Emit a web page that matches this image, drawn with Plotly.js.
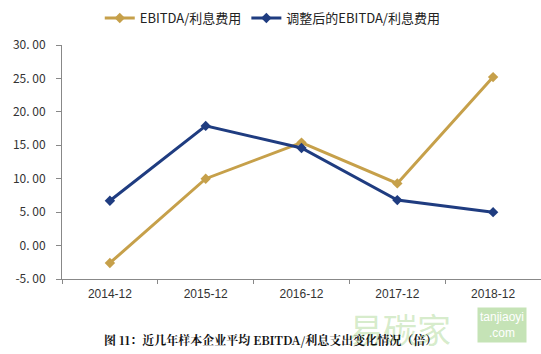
<!DOCTYPE html>
<html><head><meta charset="utf-8">
<script src="https://cdn.plot.ly/plotly-3.0.1.min.js"></script>
<style>html,body{margin:0;padding:0;background:#fff;}#chart{width:541px;height:354px;}</style>
</head><body><div id="chart"></div>
<script>
const categories = ["2014-12","2015-12","2016-12","2017-12","2018-12"];
const ebitdaRatio = [-2.6, 10.0, 15.4, 9.3, 25.2];
const adjustedRatio = [6.7, 17.9, 14.6, 6.8, 5.0];
const seriesNames = ["EBITDA/利息费用","调整后的EBITDA/利息费用"];
const yTicks = [-5,0,5,10,15,20,25,30];
const yTickText = ["-5. 00","0. 00","5. 00","10. 00","15. 00","20. 00","25. 00","30. 00"];
const caption = "图 11：近几年样本企业平均 EBITDA/利息支出变化情况（倍）";

const gold = "#C6A04A", blue = "#1F3C80";
const traces = [
 {x:categories,y:ebitdaRatio,name:seriesNames[0],type:"scatter",mode:"lines+markers",
  line:{color:gold,width:3},marker:{symbol:"diamond",size:8,color:gold}},
 {x:categories,y:adjustedRatio,name:seriesNames[1],type:"scatter",mode:"lines+markers",
  line:{color:blue,width:3},marker:{symbol:"diamond",size:8,color:blue}}
];
const layout = {
 width:541,height:354,margin:{l:62,r:0,t:45,b:75},
 paper_bgcolor:"#fff",plot_bgcolor:"#fff",showlegend:true,
 font:{family:"Liberation Sans, Arial, sans-serif",size:11,color:"#333"},
 xaxis:{type:"category",showgrid:false,zeroline:false,showline:true,linecolor:"#888",linewidth:1,
  ticks:"outside",ticklen:4,tickcolor:"#888",tickson:"boundaries",range:[-0.5,4.5],ticklabelstandoff:4,
  tickfont:{family:"Liberation Sans, Arial, sans-serif",size:12,color:"#333"}},
 yaxis:{range:[-5,30],tickvals:yTicks,ticktext:yTickText,showgrid:false,zeroline:false,
  showline:true,linecolor:"#888",linewidth:1,ticks:"outside",ticklen:5,tickcolor:"#888",ticklabelstandoff:8,
  tickfont:{family:"Noto Sans CJK SC, sans-serif",size:12,color:"#333"}},
 legend:{orientation:"h",x:0.44,xanchor:"center",y:1.115,yanchor:"middle",
  font:{family:"Noto Sans CJK SC, sans-serif",size:13,color:"#222"},itemwidth:30,tracegroupgap:0},
 annotations:[
  {xref:"paper",yref:"paper",x:(400-62)/479,y:-0.21,xanchor:"center",yanchor:"middle",showarrow:false,
   text:"易碳家",font:{family:"Noto Sans CJK SC, sans-serif",size:34,color:"rgba(150,205,120,0.4)"}},
  {xref:"paper",yref:"paper",x:(502-62)/479,y:-0.195,xanchor:"center",yanchor:"middle",showarrow:false,
   text:"tanjiaoyi<br>.com",bgcolor:"rgba(140,200,110,0.5)",borderpad:2,
   font:{family:"Liberation Sans, Arial, sans-serif",size:12,color:"#fff"}},
  {xref:"paper",yref:"paper",x:(270-62)/479,y:-0.26,xanchor:"center",yanchor:"middle",showarrow:false,
   text:"<b>"+caption+"</b>",font:{family:"Noto Serif CJK SC, Noto Sans CJK SC, serif",size:12,color:"#111"}}
 ]
};
Plotly.newPlot("chart",traces,layout,{displayModeBar:false,staticPlot:true});
</script></body></html>
